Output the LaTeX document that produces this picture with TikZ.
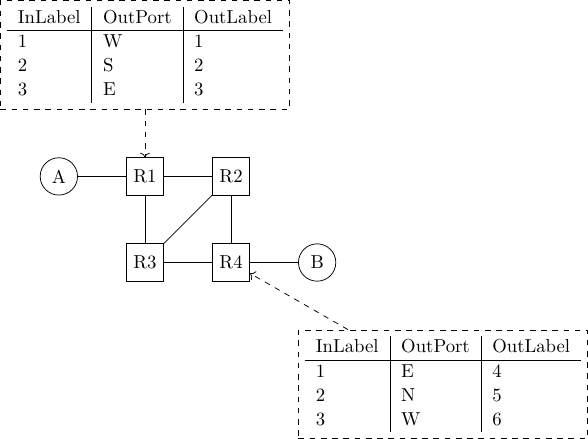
\documentclass[tikz,border=0pt]{standalone}
\usepackage{tikz}
\usetikzlibrary{arrows.meta}
\usetikzlibrary{positioning}
\tikzset{
% default arrow tip
>={To}
}
\renewcommand{\arraystretch}{1.06}

\begin{document}
\begin{tikzpicture}[node distance=0.9cm,
  router/.style={rectangle, draw=black, minimum size=7mm},
  host/.style={circle, draw=black, minimum size=7mm},
  ltable/.style={rectangle, draw=black, dashed, inner sep=3.33pt}]
  \node[router] (r1) at (0, 0) {R1};
  \node[router, right=of r1] (r2) {R2};
  \node[router, below=of r1] (r3) {R3};
  \node[router, below=of r2] (r4) {R4};
  \node[host, left=of r1] (a) {A};
  \node[host, right=of r4] (b) {B};

  % label tables
  \node[ltable, above=of r1] (tab1) {\begin{tabular}{l|l|l}
    InLabel & OutPort & OutLabel \\ \hline
    1 & W & 1 \\
    2 & S & 2 \\
    3 & E & 3
  \end{tabular}};
  \node[ltable, anchor=north west] (tab2) at ([yshift=-0.9cm]b.west |- b.south) {\begin{tabular}{l|l|l}
    InLabel & OutPort & OutLabel \\ \hline
    1 & E & 4 \\
    2 & N & 5 \\
    3 & W & 6
  \end{tabular}};

  \draw (a) -- (r1);
  \draw (r1) -- (r2);
  \draw (r1) -- (r3);
  \draw (r2) -- (r4);
  \draw (r3) -- (r4);
  \draw (r2) -- (r3);
  \draw (r4) -- (b);

  \draw[->, dashed] (tab1) -- (r1);
  \draw[->, dashed] (tab2) -- (r4);
\end{tikzpicture}
\end{document}
